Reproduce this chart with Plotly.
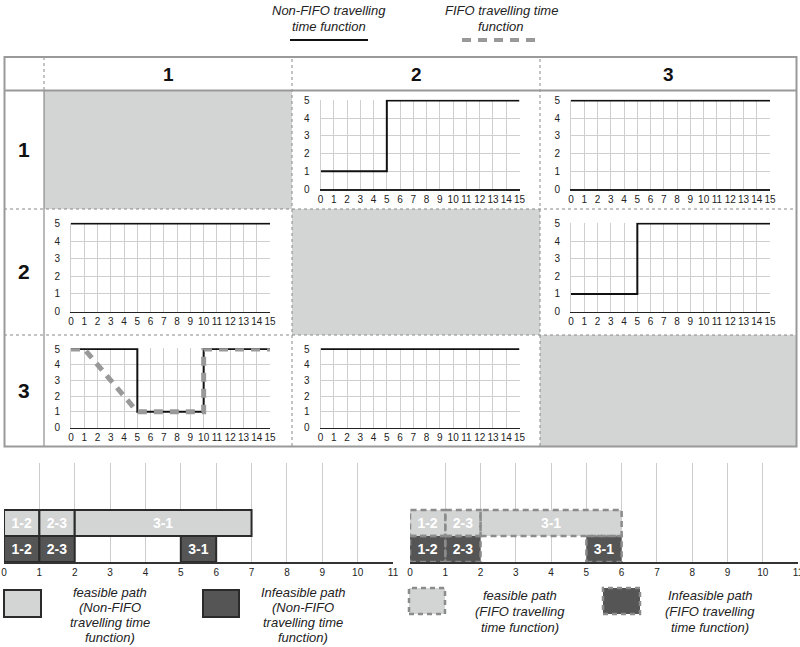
import plotly.graph_objects as go

W, H = 800, 647
FONT = "Liberation Sans, Arial, Helvetica, sans-serif"


def fx(p):
    return p / W


def fy(p):
    return 1 - p / H


# ---------------- data ----------------
time_ticks = list(range(0, 16))
value_ticks = list(range(0, 6))

step_x = [0, 5, 5, 15]
step_y = [1, 1, 5, 5]
const_x = [0, 15]
const_y = [5, 5]
nonfifo_31_x = [0, 5, 5, 10, 10, 15]
nonfifo_31_y = [5, 5, 1, 1, 5, 5]
fifo_31_x = [0, 1, 5, 10, 10, 15]
fifo_31_y = [5, 5, 1, 1, 5, 5]

row_labels = ["1", "2", "3"]
col_labels = ["1", "2", "3"]

gantt_ticks = list(range(0, 12))
tasks = ["1-2", "2-3", "3-1"]
nf_feas_start = [0, 1, 2]
nf_feas_end = [1, 2, 7]
nf_infeas_start = [0, 1, 5]
nf_infeas_end = [1, 2, 6]
f_feas_start = [0, 1, 2]
f_feas_end = [1, 2, 6]
f_infeas_start = [0, 1, 5]
f_infeas_end = [1, 2, 6]

# ---------------- layout geometry (pixels) ----------------
col_x0 = {1: 71, 2: 320.5, 3: 571}
row_y = {1: (100.5, 189), 2: (223.5, 311.5), 3: (349, 427.5)}
PW = 199

panels = [
    (1, 2, [("nf", step_x, step_y)]),
    (1, 3, [("nf", const_x, const_y)]),
    (2, 1, [("nf", const_x, const_y)]),
    (2, 3, [("nf", step_x, step_y)]),
    (3, 1, [("nf", nonfifo_31_x, nonfifo_31_y), ("f", fifo_31_x, fifo_31_y)]),
    (3, 2, [("nf", const_x, const_y)]),
]

fig = go.Figure()
layout = dict(
    width=W, height=H, margin=dict(l=0, r=0, t=0, b=0, autoexpand=False),
    paper_bgcolor="white", plot_bgcolor="rgba(0,0,0,0)",
    showlegend=False, font=dict(family=FONT, color="#222"),
    barmode="overlay",
)

YTOP = 5.04
for i, (r, c, funcs) in enumerate(panels, start=1):
    xa = "x" if i == 1 else f"x{i}"
    ya = "y" if i == 1 else f"y{i}"
    x0 = col_x0[c]
    ytop, ybot = row_y[r]
    unit = (ybot - ytop) / 5.0
    for kind, xs, ys in funcs:
        if kind == "nf":
            line = dict(color="#111", width=2)
        else:
            line = dict(color="#999999", width=5, dash="9px,7px")
        fig.add_trace(go.Scatter(x=xs, y=ys, mode="lines", line=line,
                                 xaxis=xa, yaxis=ya, hoverinfo="skip"))
    layout["xaxis" if i == 1 else f"xaxis{i}"] = dict(
        domain=[fx(x0), fx(x0 + PW)], range=[0, 15], anchor=ya,
        tickvals=time_ticks, showgrid=True, gridcolor="#cfcfcf", gridwidth=1,
        zeroline=False, showline=True, linecolor="#222", linewidth=1.5,
        tickfont=dict(size=10, color="#222"), ticks="", tickangle=0,
        automargin=False, fixedrange=True,
    )
    layout["yaxis" if i == 1 else f"yaxis{i}"] = dict(
        domain=[fy(ybot), fy(ytop - 0.04 * unit)], range=[0, YTOP], anchor=xa,
        tickvals=value_ticks, showgrid=True, gridcolor="#cfcfcf", gridwidth=1,
        zeroline=False, showline=True, linecolor="#cfcfcf", linewidth=1,
        tickfont=dict(size=10, color="#222"), ticks="", ticklabelstandoff=8,
        automargin=False, fixedrange=True,
    )

# ---------------- gantt charts ----------------
G_TOP, G_BOT = 463, 562
gantts = [
    (7, 4, 393, nf_feas_start, nf_feas_end, nf_infeas_start, nf_infeas_end, False),
    (8, 410, 798, f_feas_start, f_feas_end, f_infeas_start, f_infeas_end, True),
]
for idx, gx0, gx1, fs, fe, ins, ine, dashed in gantts:
    xa, ya = f"x{idx}", f"y{idx}"
    bar_line = dict(color="#2b2b2b", width=0 if dashed else 2)
    for starts, ends, rowc, color in [(fs, fe, 1.5, "#d3d4d4"), (ins, ine, 0.5, "#555555")]:
        fig.add_trace(go.Bar(
            orientation="h", base=starts, x=[e - s for s, e in zip(starts, ends)],
            y=[rowc] * len(starts), width=1,
            marker=dict(color=color, line=bar_line),
            text=tasks, textposition="inside", insidetextanchor="middle",
            textangle=0, constraintext="none",
            textfont=dict(color="white", size=14, family=FONT, weight="bold"),
            xaxis=xa, yaxis=ya, hoverinfo="skip",
        ))
        if dashed:
            for s, e in zip(starts, ends):
                fig.add_trace(go.Scatter(
                    x=[s, e, e, s, s],
                    y=[rowc - 0.5, rowc - 0.5, rowc + 0.5, rowc + 0.5, rowc - 0.5],
                    mode="lines", line=dict(color="#8c8c8c", width=2.5, dash="6px,4px"),
                    xaxis=xa, yaxis=ya, hoverinfo="skip",
                ))
    layout[f"xaxis{idx}"] = dict(
        domain=[fx(gx0), fx(gx1)], range=[0, 11], anchor=ya,
        tickvals=gantt_ticks, showgrid=True, gridcolor="#cccccc", gridwidth=1,
        zeroline=False, showline=True, linecolor="#333", linewidth=2,
        tickfont=dict(size=10, color="#222"), ticks="", tickangle=0,
        ticklabeloverflow="allow", automargin=False, fixedrange=True,
    )
    layout[f"yaxis{idx}"] = dict(
        domain=[fy(G_BOT), fy(G_TOP)], range=[0, (G_BOT - G_TOP) / 26.0],
        anchor=xa, visible=False, automargin=False, fixedrange=True,
    )

# ---------------- table shapes ----------------
shapes = []
GRAY_FILL = "#d3d4d4"
for (x0, y0, x1, y1) in [(44, 90, 292, 209), (292, 209, 540, 335), (540, 335, 797, 446)]:
    shapes.append(dict(type="rect", xref="paper", yref="paper", layer="below",
                       x0=fx(x0), x1=fx(x1), y0=fy(y1), y1=fy(y0),
                       fillcolor=GRAY_FILL, line=dict(width=0)))
# dotted separators
for xv in [292, 540]:
    shapes.append(dict(type="line", xref="paper", yref="paper", x0=fx(xv), x1=fx(xv),
                       y0=fy(446), y1=fy(57), line=dict(color="#888", width=1, dash="dot")))
shapes.append(dict(type="line", xref="paper", yref="paper", x0=fx(44), x1=fx(44),
                   y0=fy(90), y1=fy(57), line=dict(color="#888", width=1, dash="dot")))
shapes.append(dict(type="line", xref="paper", yref="paper", x0=fx(44), x1=fx(44),
                   y0=fy(446), y1=fy(90), line=dict(color="#777", width=1)))
for yv in [209, 335]:
    shapes.append(dict(type="line", xref="paper", yref="paper", x0=fx(4), x1=fx(797),
                       y0=fy(yv), y1=fy(yv), line=dict(color="#888", width=1, dash="dot")))
shapes.append(dict(type="line", xref="paper", yref="paper", x0=fx(4), x1=fx(797),
                   y0=fy(90.5), y1=fy(90.5), line=dict(color="#999", width=2)))
shapes.append(dict(type="rect", xref="paper", yref="paper", x0=fx(4.5), x1=fx(796.5),
                   y0=fy(446.5), y1=fy(57), line=dict(color="#9a9a9a", width=2)))

# top legend lines
shapes.append(dict(type="line", xref="paper", yref="paper", x0=fx(290), x1=fx(368),
                   y0=fy(40), y1=fy(40), line=dict(color="#111", width=2)))
shapes.append(dict(type="line", xref="paper", yref="paper", x0=fx(462), x1=fx(542),
                   y0=fy(40), y1=fy(40), line=dict(color="#999", width=4, dash="9px,7px")))

# bottom legend boxes
shapes.append(dict(type="rect", xref="paper", yref="paper", x0=fx(4), x1=fx(41),
                   y0=fy(617), y1=fy(590), fillcolor="#d3d4d4",
                   line=dict(color="#2b2b2b", width=2)))
shapes.append(dict(type="rect", xref="paper", yref="paper", x0=fx(203), x1=fx(239),
                   y0=fy(617), y1=fy(590), fillcolor="#555555",
                   line=dict(color="#2b2b2b", width=2)))
shapes.append(dict(type="rect", xref="paper", yref="paper", x0=fx(409), x1=fx(445),
                   y0=fy(614), y1=fy(588), fillcolor="#d3d4d4",
                   line=dict(color="#8c8c8c", width=2.5, dash="5px,4px")))
shapes.append(dict(type="rect", xref="paper", yref="paper", x0=fx(603), x1=fx(640),
                   y0=fy(614), y1=fy(588), fillcolor="#555555",
                   line=dict(color="#8c8c8c", width=2.5, dash="5px,4px")))
layout["shapes"] = shapes

# ---------------- annotations ----------------
ann = []


def txt(x, y, s, size=13, italic=True, bold=False, color="#222"):
    t = s
    if bold:
        t = f"<b>{t}</b>"
    if italic:
        t = f"<i>{t}</i>"
    ann.append(dict(x=fx(x), y=fy(y), xref="paper", yref="paper", text=t,
                    showarrow=False, xanchor="center", yanchor="middle",
                    font=dict(size=size, color=color, family=FONT)))


# top legend
txt(329, 11, "Non-FIFO travelling")
txt(329, 26, "time function")
txt(501, 11, "FIFO travelling time")
txt(501, 26, "function")

# table headers
for lab, cx in zip(col_labels, [168, 416, 668]):
    txt(cx, 74, lab, size=19, italic=False, bold=True, color="#111")
for lab, cy in zip(row_labels, [150, 271, 391]):
    txt(24, cy, lab, size=21, italic=False, bold=True, color="#111")

# bottom legend texts
for i, s in enumerate(["feasible path", "(Non-FIFO", "travelling time", "function)"]):
    txt(110, 592 + 15 * i, s)
for i, s in enumerate(["Infeasible path", "(Non-FIFO", "travelling time", "function)"]):
    txt(303, 592 + 15 * i, s)
for i, s in enumerate(["feasible path", "(FIFO travelling", "time function)"]):
    txt(520, 595 + 16 * i, s)
for i, s in enumerate(["Infeasible path", "(FIFO travelling", "time function)"]):
    txt(710, 595 + 16 * i, s)

layout["annotations"] = ann
fig.update_layout(**layout)
fig.write_html(
    "out.html",
    config={"displayModeBar": False, "staticPlot": True},
    post_script="document.body.style.margin='0';document.body.style.padding='0';"
                "document.body.style.overflow='hidden';",
)
